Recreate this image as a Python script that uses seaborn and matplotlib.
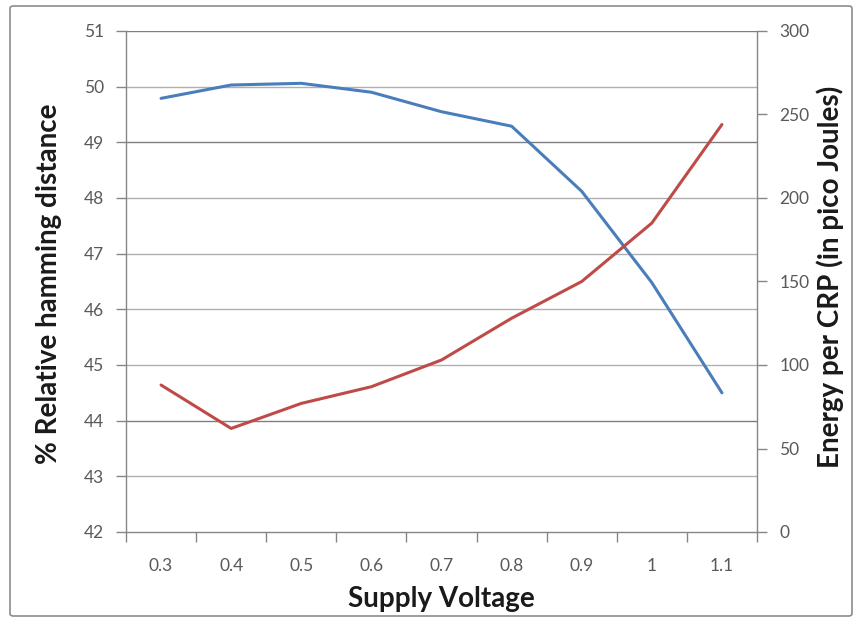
import matplotlib
matplotlib.use("Agg")
import matplotlib.pyplot as plt
from matplotlib.patches import FancyBboxPatch
import seaborn as sns
import pandas as pd

voltages = ["0.3", "0.4", "0.5", "0.6", "0.7", "0.8", "0.9", "1", "1.1"]
hamming = [49.79, 50.03, 50.06, 49.90, 49.55, 49.29, 48.12, 46.48, 44.50]
energy = [88, 62, 77, 87, 103, 128, 150, 185, 244]

left_ticks = [42, 43, 44, 45, 46, 47, 48, 49, 50, 51]
right_ticks = [0, 50, 100, 150, 200, 250, 300]

sns.set_theme(style="white")
plt.rcParams["font.family"] = ["Lato", "DejaVu Sans"]

df = pd.DataFrame({"pos": range(len(voltages)), "voltage": voltages,
                   "hamming": hamming, "energy": energy})

fig = plt.figure(figsize=(8.54, 6.18), dpi=100)
ax = fig.add_axes([126 / 854, 1 - 532 / 618, (757 - 126) / 854, (532 - 31) / 618])
ax2 = ax.twinx()

frame = FancyBboxPatch((10 / 854, 1 - 616 / 618), 842 / 854, 610 / 618,
                       boxstyle="round,pad=0,rounding_size=0.004",
                       transform=fig.transFigure, facecolor="none",
                       edgecolor="#8c8c8c", linewidth=1.2, zorder=-1)
fig.patches.append(frame)

grid_col = "#b0b0b0"
dark_col = "#7f7f7f"
for v in left_ticks[1:]:
    c = dark_col if v in (44, 49, 51) else grid_col
    ax.axhline(v, color=c, linewidth=1.0, zorder=0)

sns.lineplot(data=df, x="pos", y="hamming", ax=ax, color="#4A7EBB",
             linewidth=2.2, zorder=3)
sns.lineplot(data=df, x="pos", y="energy", ax=ax2, color="#BE4B48",
             linewidth=2.2, zorder=3)

n = len(voltages)
ax.set_xlim(-0.5, n - 0.5)
ax.set_ylim(42, 51)
ax2.set_ylim(0, 300)
ax.set_yticks(left_ticks)
ax2.set_yticks(right_ticks)
ax.set_xticks([i - 0.5 for i in range(n + 1)])
ax.set_xticklabels([])
ax.set_xticks(range(n), minor=True)
ax.set_xticklabels(voltages, minor=True)

tick_col = "#595959"
spine_col = "#868686"
tick_size = 12.5
ax.tick_params(axis="x", which="major", direction="out", length=7, color=spine_col,
               width=1, bottom=True)
ax.tick_params(axis="x", which="minor", length=0, pad=19, labelsize=tick_size,
               labelcolor=tick_col)
ax.tick_params(axis="y", direction="out", length=7, color=spine_col, width=1,
               left=True, labelsize=tick_size, labelcolor=tick_col, pad=9)
ax2.tick_params(axis="y", direction="out", length=7, color=spine_col, width=1,
                right=True, labelsize=tick_size, labelcolor=tick_col, pad=9)

for a in (ax, ax2):
    a.spines["top"].set_visible(False)
    for s in ("left", "bottom", "right"):
        a.spines[s].set_color(spine_col)
        a.spines[s].set_linewidth(1.0)
ax.spines["right"].set_visible(False)
ax2.spines["left"].set_visible(False)
ax2.spines["bottom"].set_visible(False)

ax.set_xlabel("")
ax.set_ylabel("")
ax2.set_ylabel("")
label_size = 20
fig.text(49 / 854, 1 - 284 / 618, "% Relative hamming distance", rotation=90,
         ha="center", va="center", fontsize=label_size, fontweight="bold",
         color="#1a1a1a")
fig.text(830 / 854, 1 - 277 / 618, "Energy per CRP (in pico Joules)", rotation=90,
         ha="center", va="center", fontsize=label_size, fontweight="bold",
         color="#1a1a1a")
fig.text(441 / 854, 1 - 599 / 618, "Supply Voltage", ha="center", va="center",
         fontsize=label_size, fontweight="bold", color="#1a1a1a")

fig.savefig("out.png", dpi=100)
